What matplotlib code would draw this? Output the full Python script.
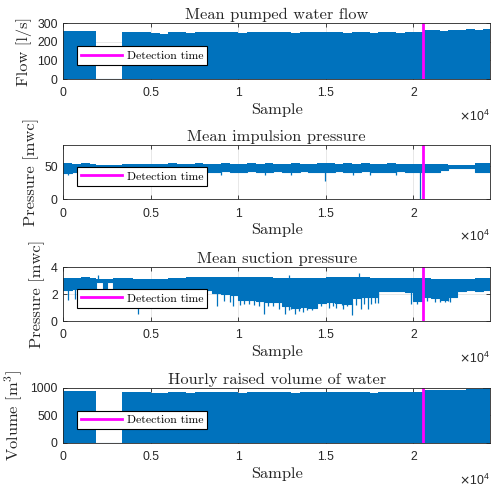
import numpy as np
import matplotlib
matplotlib.use('Agg')
import matplotlib.pyplot as plt
from matplotlib.ticker import FuncFormatter
from matplotlib.lines import Line2D

# sample positions where the envelope of each signal changes (step-wise)
knots = [0, 500, 1000, 1500, 1870, 2290, 2480, 2860, 3350, 4000, 4500, 5000,
         5500, 6000, 6500, 7000, 7500, 8000, 8500, 9000, 9500, 10000, 10500,
         11000, 11500, 12000, 12500, 13000, 13500, 14000, 14500, 15000, 15500,
         16000, 16500, 17000, 17500, 18000, 18500, 19000, 19500, 20000, 20550,
         21000, 21500, 22000, 22500, 23000, 23500, 24000, 24380]

# mean pumped water flow [l/s] (upper envelope, lower envelope is 0)
flow_top = [258, 260, 257, 259, 0, 0, 0, 0, 254, 256, 252, 249,
            244, 251, 253, 250, 254, 252, 255, 251, 253, 250, 254,
            252, 255, 251, 253, 250, 252, 254, 251, 256, 252,
            250, 253, 251, 249, 252, 254, 250, 252, 253, 262,
            264, 260, 266, 263, 268, 265, 270, 270]

# mean impulsion pressure [mwc]
imp_top = [54, 53, 54, 53, 52, 52, 52, 52, 53, 53.5, 53, 53.5,
           53, 54, 53.5, 53, 54, 53.5, 53, 54, 53.5, 53, 54,
           53.5, 54, 53, 53.5, 54, 53, 53.5, 54, 54, 53.5,
           54, 53.5, 54, 53, 53.5, 54, 53, 53.5, 53, 53.5,
           53, 53, 52, 52, 52, 54, 54, 54]
imp_bot = [40, 41, 40, 41, 49.5, 49.5, 49.5, 49.5, 41, 42, 41, 41.5,
           41, 42, 41, 41.5, 42, 41, 41.5, 42, 41, 41.5, 42,
           41, 41.5, 42, 41, 41.5, 42, 41, 41.5, 41, 42,
           41, 41.5, 42, 41, 41.5, 41, 42, 41, 41.5, 41,
           41.5, 44, 47.5, 47.5, 47.5, 41, 41.5, 41.5]
imp_spike_x = [270, 5200, 7800, 9000, 11500, 13000, 14950, 16560, 17500,
               19000, 20380]
imp_spike_min = [36, 37, 37, 36, 37, 37, 28, 37, 36, 37, 0]

# mean suction pressure [mwc]
suc_top = [3.2, 3.2, 3.25, 3.2, 3.1, 3.15, 3.1, 3.2, 3.2, 3.15, 3.1, 3.1,
           3.15, 3.2, 3.2, 3.25, 3.25, 3.25, 3.3, 3.3, 3.25, 3.3, 3.3,
           3.3, 3.25, 3.2, 3.2, 3.2, 3.2, 3.2, 3.2, 3.25, 3.25,
           3.25, 3.25, 3.25, 3.2, 3.2, 3.2, 3.2, 3.2, 3.2, 3.2,
           3.15, 3.15, 3.1, 3.15, 3.15, 3.2, 3.2, 3.2]
suc_bot = [2.3, 2.35, 2.4, 2.4, 2.9, 2.3, 2.9, 2.35, 2.35, 2.35, 2.4, 2.4,
           2.4, 2.35, 2.35, 2.35, 2.3, 2.3, 2.1, 2.0, 1.9, 1.6, 1.55,
           1.5, 1.45, 1.4, 1.15, 1.0, 1.05, 0.95, 1.35, 1.4, 1.35,
           1.3, 1.7, 1.8, 1.75, 2.2, 2.25, 2.2, 2.15, 1.5, 1.8,
           1.7, 1.6, 1.75, 2.25, 2.3, 2.25, 2.3, 2.3]
suc_spike_x = [290, 670, 4290, 8800, 9200, 9500, 9700, 10100, 10300, 10600,
               10900, 11200, 11490, 11700, 12000, 12300, 12670, 12900, 13000,
               13240, 13450, 13700, 13900, 14200, 14350, 14700, 15200, 15400,
               15600, 15900, 16000, 16200, 16480, 16700, 17000, 17200, 17400,
               17600, 17800, 18000, 19850, 20200, 20800, 21240, 21500, 21810,
               22000, 22100]
suc_spike_min = [1.6, 1.65, 0.55, 1.15, 1.5, 1.4, 1.15, 1.2, 1.3, 1.25,
                 1.2, 1.1, 0.5, 1.15, 1.1, 0.9, 0.5, 0.8, 0.9,
                 0.55, 0.75, 0.7, 0.85, 0.8, 1.0, 1.1, 1.0, 1.1,
                 1.0, 1.2, 0.9, 1.1, 0.42, 1.2, 0.9, 1.3, 0.9,
                 1.3, 1.35, 1.35, 1.3, 1.3, 1.5, 1.4, 1.45, 1.4,
                 1.5, 1.4]
suc_peak_x = [2000, 12900, 16900]
suc_peak_max = [3.45, 3.4, 3.55]

# hourly raised volume of water [m3]
vol_top = [945, 948, 942, 946, 0, 0, 0, 0, 925, 928, 920, 915,
           905, 918, 922, 916, 924, 920, 926, 918, 922, 917, 925,
           921, 927, 919, 923, 916, 921, 926, 919, 930, 922,
           918, 924, 920, 915, 921, 925, 918, 922, 924, 960,
           965, 955, 972, 968, 985, 978, 995, 995]

detection_sample = 20550
n_samples = 24380

BLUE = '#0072BD'
MAGENTA = '#FF00FF'
DARK = '#262626'
SERIF = 'cmr10'
FS = 11.8

plt.rcParams['font.family'] = 'Liberation Sans'

panels = [
    ('Mean pumped water flow', 'Flow [l/s]', flow_top, None, None, None,
     (0, 300), [0, 100, 200, 300]),
    ('Mean impulsion pressure', 'Pressure [mwc]', imp_top, imp_bot,
     imp_spike_x, imp_spike_min, (0, 82), [0, 50]),
    ('Mean suction pressure', 'Pressure [mwc]', suc_top, suc_bot,
     suc_spike_x, suc_spike_min, (0, 4), [0, 2, 4]),
    ('Hourly raised volume of water', r'Volume [$\mathrm{m}^3$]', vol_top,
     None, None, None, (0, 1000), [0, 500, 1000]),
]

fig = plt.figure(figsize=(4.91, 4.91), dpi=100)
boxes = [(0.129, 0.839, 0.869, 0.1134),
         (0.129, 0.594, 0.869, 0.111),
         (0.129, 0.346, 0.869, 0.110),
         (0.129, 0.0978, 0.869, 0.112)]

x = np.array(knots, dtype=float)
for i, (box, panel) in enumerate(zip(boxes, panels)):
    title, ylabel, top, bot, sx, smin, ylim, yticks = panel
    ax = fig.add_axes(box)
    top = np.array(top, dtype=float)
    bot = np.zeros_like(top) if bot is None else np.array(bot, dtype=float)

    ax.fill_between(x, bot, top, step='post', color=BLUE, lw=0)
    ax.step(x, bot, where='post', color=BLUE, lw=0.8)
    if sx is not None:
        idx = np.searchsorted(x, sx, side='right') - 1
        ax.vlines(sx, smin, bot[idx] + 0.01 * ylim[1], color=BLUE, lw=0.9)
    if i == 2:
        idx = np.searchsorted(x, suc_peak_x, side='right') - 1
        ax.vlines(suc_peak_x, top[idx] - 0.05, suc_peak_max, color=BLUE, lw=0.9)

    ax.axvline(detection_sample, color=MAGENTA, lw=2)

    ax.set_xlim(0, n_samples)
    ax.set_ylim(*ylim)
    ax.set_xticks([0, 5000, 10000, 15000, 20000])
    ax.set_yticks(yticks)
    ax.xaxis.set_major_formatter(FuncFormatter(lambda v, p: f'{v / 1e4:g}'))
    ax.grid(True, color='#dedede', lw=0.5)
    ax.set_axisbelow(True)
    ax.tick_params(direction='in', length=3, width=0.6, top=True, right=True,
                   labelsize=8.8, colors=DARK)
    ax.tick_params(axis='x', pad=6)
    ax.tick_params(axis='y', pad=4)
    for s in ax.spines.values():
        s.set_linewidth(0.6)
        s.set_color(DARK)

    ax.set_title(title, fontfamily=SERIF, fontsize=FS, color=DARK, pad=3)
    ax.set_ylabel(ylabel, fontfamily=SERIF, fontsize=FS, color=DARK,
                  labelpad=4, math_fontfamily='cm')
    ax.set_xlabel('Sample', fontfamily=SERIF, fontsize=FS, color=DARK,
                  labelpad=2.5)
    ax.annotate(r'$\times\mathdefault{10^{4}}$', xy=(1, 0),
                xycoords='axes fraction', xytext=(0, -27),
                textcoords='offset points', ha='right', va='center',
                fontsize=8.8, color=DARK, math_fontfamily='dejavusans')

    handle = Line2D([], [], color=MAGENTA, lw=2)
    leg = ax.legend([handle], ['Detection time'], loc='center left',
                    bbox_to_anchor=(0.032, 0.42),
                    prop={'family': SERIF, 'size': 8.5},
                    handlelength=3.5, handletextpad=0.35, borderpad=0.35,
                    borderaxespad=0, fancybox=False, framealpha=1)
    leg.get_frame().set_edgecolor('black')
    leg.get_frame().set_linewidth(0.8)

fig.savefig('out.png', dpi=100)
